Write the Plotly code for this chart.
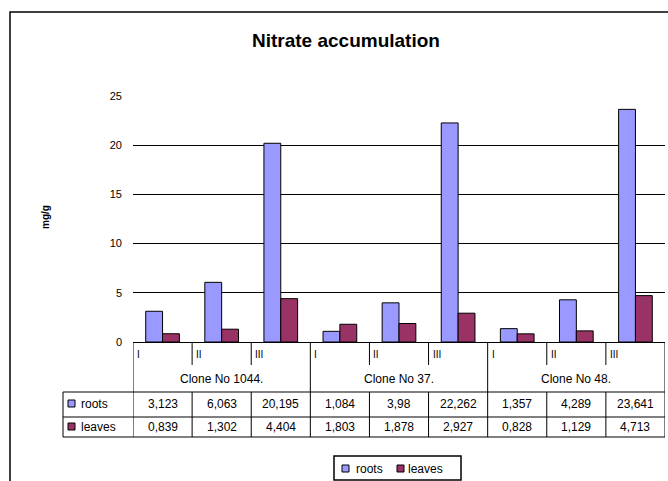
import plotly.graph_objects as go

# ---- data ----
clones = ["Clone No 1044.", "Clone No 37.", "Clone No 48."]
stages = ["I", "II", "III"]
roots = [3.123, 6.063, 20.195, 1.084, 3.98, 22.262, 1.357, 4.289, 23.641]
leaves = [0.839, 1.302, 4.404, 1.803, 1.878, 2.927, 0.828, 1.129, 4.713]
series_names = ["roots", "leaves"]
y_ticks = [0, 5, 10, 15, 20, 25]

ROOT_C = "#9999FF"
LEAF_C = "#993366"
FONT = "Arial, Liberation Sans, sans-serif"

W, H = 668, 481
L, R, T, B = 133, 3, 96, 139
PW, PH = W - L - R, H - T - B


def px(x):
    return (x - L) / PW


def py(y):
    return (H - B - y) / PH


n = len(roots)
xs = list(range(n))

fig = go.Figure()
for name, vals, col in [(series_names[0], roots, ROOT_C), (series_names[1], leaves, LEAF_C)]:
    fig.add_trace(go.Bar(
        x=xs, y=vals, name=name,
        marker=dict(color=col, line=dict(color="black", width=1)),
        showlegend=False,
    ))

shapes = []
ann = []
BLK = dict(color="black", width=1)

# category ticks / group borders below axis
for i in range(n + 1):
    xb = i - 0.5
    if i % 3 == 0:
        shapes.append(dict(type="line", xref="x", yref="paper", x0=xb, x1=xb,
                           y0=py(342), y1=py(437), line=BLK))
    else:
        shapes.append(dict(type="line", xref="x", yref="paper", x0=xb, x1=xb,
                           y0=py(342), y1=py(365), line=BLK))
        shapes.append(dict(type="line", xref="x", yref="paper", x0=xb, x1=xb,
                           y0=py(392), y1=py(437), line=BLK))

# horizontal table lines
for yy in [392, 417, 437]:
    shapes.append(dict(type="line", xref="paper", yref="paper", x0=px(63), x1=px(665),
                       y0=py(yy), y1=py(yy), line=BLK))
shapes.append(dict(type="line", xref="paper", yref="paper", x0=px(63), x1=px(63),
                   y0=py(392), y1=py(437), line=BLK))

# roman numerals
for i in range(n):
    ann.append(dict(x=i - 0.5, xref="x", xshift=2, y=py(354), yref="paper",
                    text=stages[i % 3], showarrow=False, xanchor="left", yanchor="middle",
                    font=dict(size=10, color="black", family=FONT)))
# group labels
for g, cname in enumerate(clones):
    ann.append(dict(x=g * 3 + 1, xref="x", y=py(379), yref="paper", text=cname,
                    showarrow=False, xanchor="center", yanchor="middle",
                    font=dict(size=12, color="black", family=FONT)))
# values
for row_y, vals in [(404, roots), (427, leaves)]:
    for i, v in enumerate(vals):
        ann.append(dict(x=i, xref="x", y=py(row_y), yref="paper",
                        text=str(v).replace(".", ","), showarrow=False,
                        xanchor="center", yanchor="middle",
                        font=dict(size=12, color="black", family=FONT)))

# row labels with keys
for row_y, name, col in [(404, series_names[0], ROOT_C), (427, series_names[1], LEAF_C)]:
    shapes.append(dict(type="rect", xref="paper", yref="paper", x0=px(68), x1=px(75),
                       y0=py(row_y - 4), y1=py(row_y + 3), fillcolor=col, line=BLK))
    ann.append(dict(x=px(79), xref="paper", y=py(row_y), yref="paper", text=name,
                    showarrow=False, xanchor="left", yanchor="middle",
                    font=dict(size=12, color="black", family=FONT)))

# legend box
shapes.append(dict(type="rect", xref="paper", yref="paper", x0=px(334), x1=px(461),
                   y0=py(456), y1=py(480), line=dict(color="black", width=1.5),
                   fillcolor="white"))
for lx, tx, name, col in [(342, 354, series_names[0], ROOT_C), (397, 406, series_names[1], LEAF_C)]:
    shapes.append(dict(type="rect", xref="paper", yref="paper", x0=px(lx), x1=px(lx + 7),
                       y0=py(465), y1=py(472), fillcolor=col, line=BLK))
    ann.append(dict(x=px(tx), xref="paper", y=py(469), yref="paper", text=name,
                    showarrow=False, xanchor="left", yanchor="middle",
                    font=dict(size=12, color="black", family=FONT)))

# outer chart border
shapes.append(dict(type="rect", xref="paper", yref="paper", x0=px(10), x1=px(700),
                   y0=py(12), y1=py(520), line=dict(color="black", width=1.5),
                   fillcolor="rgba(0,0,0,0)"))

# title and y label
ann.append(dict(x=px(346), xref="paper", y=py(40), yref="paper",
                text="<b>Nitrate accumulation</b>", showarrow=False,
                xanchor="center", yanchor="middle",
                font=dict(size=19, color="black", family=FONT)))
ann.append(dict(x=px(45), xref="paper", y=py(217), yref="paper",
                text="<b>mg/g</b>", showarrow=False, textangle=-90,
                xanchor="center", yanchor="middle",
                font=dict(size=10, color="black", family=FONT)))

fig.update_layout(
    width=W, height=H,
    margin=dict(l=L, r=R, t=T, b=B, pad=0),
    paper_bgcolor="white", plot_bgcolor="white",
    barmode="group", bargap=0.43, bargroupgap=0,
    shapes=shapes, annotations=ann,
    showlegend=False,
    font=dict(family=FONT, color="black"),
)
fig.update_xaxes(range=[-0.5, n - 0.5], showticklabels=False, showgrid=False,
                 zeroline=False, showline=True, linecolor="black", linewidth=1,
                 ticks="", fixedrange=True)
fig.update_yaxes(range=[0, 25], tickvals=y_ticks, showgrid=True, gridcolor="black",
                 gridwidth=1, zeroline=False, showline=False, ticks="",
                 ticklabelstandoff=10, tickfont=dict(size=11, color="black", family=FONT),
                 fixedrange=True)

fig.write_html("out.html", config={"displayModeBar": False},
               post_script="document.body.style.margin='0';document.body.style.overflow='hidden';")
